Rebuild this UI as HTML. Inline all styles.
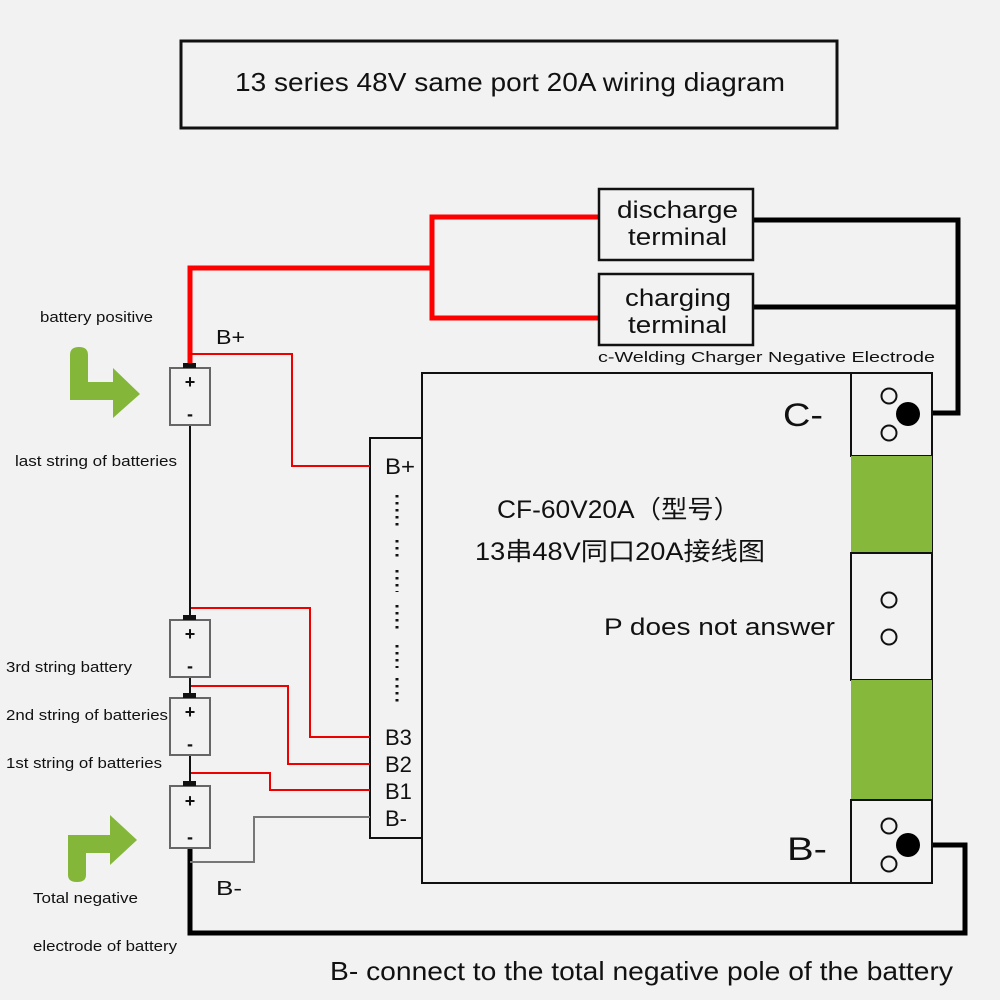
<!DOCTYPE html>
<html><head><meta charset="utf-8"><style>
html,body{margin:0;padding:0;background:#f2f2f2}
svg{display:block}
text{font-family:"Liberation Sans","Noto Sans CJK SC",sans-serif;fill:#111}
</style></head><body>
<svg width="1000" height="1000" viewBox="0 0 1000 1000" xmlns="http://www.w3.org/2000/svg">
<rect width="1000" height="1000" fill="#f2f2f2"/>
<rect x="181" y="41" width="656" height="87" fill="none" stroke="#111" stroke-width="3"/>
<text x="235" y="91" font-size="26" textLength="550" lengthAdjust="spacingAndGlyphs">13 series 48V same port 20A wiring diagram</text>

<polyline points="190,365 190,268 432,268 432,217 600,217" fill="none" stroke="#f00" stroke-width="5"/>
<polyline points="432,268 432,318 600,318" fill="none" stroke="#f00" stroke-width="5"/>
<polyline points="753,220 958,220 958,413 908,413" fill="none" stroke="#000" stroke-width="5"/>
<polyline points="753,307 958,307" fill="none" stroke="#000" stroke-width="5"/>
<polyline points="190,845 190,933 965,933 965,845 908,845" fill="none" stroke="#000" stroke-width="5"/>

<rect x="599" y="189" width="154" height="71" fill="#f2f2f2" stroke="#111" stroke-width="2.5"/>
<text x="617" y="218" font-size="24" textLength="121" lengthAdjust="spacingAndGlyphs">discharge</text>
<text x="628" y="245" font-size="24" textLength="99" lengthAdjust="spacingAndGlyphs">terminal</text>
<rect x="599" y="274" width="154" height="71" fill="#f2f2f2" stroke="#111" stroke-width="2.5"/>
<text x="625" y="306" font-size="24" textLength="106" lengthAdjust="spacingAndGlyphs">charging</text>
<text x="628" y="333" font-size="24" textLength="99" lengthAdjust="spacingAndGlyphs">terminal</text>
<text x="598" y="362" font-size="15" textLength="337" lengthAdjust="spacingAndGlyphs">c-Welding Charger Negative Electrode</text>

<rect x="422" y="373" width="510" height="510" fill="#f2f2f2" stroke="#111" stroke-width="2"/>
<rect x="851" y="373" width="81" height="83" fill="#f2f2f2" stroke="#111" stroke-width="2"/>
<rect x="851" y="456" width="81" height="97" fill="#86b83c"/>
<rect x="851" y="553" width="81" height="127" fill="#f2f2f2" stroke="#111" stroke-width="2"/>
<rect x="851" y="680" width="81" height="120" fill="#86b83c"/>
<rect x="851" y="800" width="81" height="83" fill="#f2f2f2" stroke="#111" stroke-width="2"/>
<g fill="none" stroke="#111" stroke-width="2">
<circle cx="889" cy="396" r="7.5"/><circle cx="889" cy="433" r="7.5"/>
<circle cx="889" cy="600" r="7.5"/><circle cx="889" cy="637" r="7.5"/>
<circle cx="889" cy="826" r="7.5"/><circle cx="889" cy="864" r="7.5"/>
</g>
<circle cx="908" cy="414" r="12" fill="#000"/>
<circle cx="908" cy="845" r="12" fill="#000"/>
<text x="783" y="426" font-size="32" textLength="40" lengthAdjust="spacingAndGlyphs">C-</text>
<text x="787" y="860" font-size="32" textLength="40" lengthAdjust="spacingAndGlyphs">B-</text>
<text x="497" y="518" font-size="25" textLength="243" lengthAdjust="spacingAndGlyphs">CF-60V20A（型号）</text>
<text x="475" y="560" font-size="25" textLength="290" lengthAdjust="spacingAndGlyphs">13串48V同口20A接线图</text>
<text x="604" y="635" font-size="24" textLength="231" lengthAdjust="spacingAndGlyphs">P does not answer</text>

<rect x="370" y="438" width="52" height="400" fill="#f2f2f2" stroke="#111" stroke-width="2"/>
<g font-size="22">
<text x="385" y="474" textLength="30" lengthAdjust="spacingAndGlyphs">B+</text>
<text x="385" y="745">B3</text>
<text x="385" y="772">B2</text>
<text x="385" y="799">B1</text>
<text x="385" y="826">B-</text>
</g>
<g stroke="#111" stroke-width="3" stroke-dasharray="2.5,4.5">
<line x1="397" y1="495" x2="397" y2="530"/>
<line x1="397" y1="540" x2="397" y2="560"/>
<line x1="397" y1="570" x2="397" y2="592"/>
<line x1="397" y1="605" x2="397" y2="632"/>
<line x1="397" y1="645" x2="397" y2="668"/>
<line x1="397" y1="678" x2="397" y2="705"/>
</g>

<g fill="none" stroke-width="2">
<polyline points="190,354 292,354 292,466 370,466" stroke="#e00"/>
<polyline points="190,608 310,608 310,737 370,737" stroke="#e00"/>
<polyline points="190,686 288,686 288,764 370,764" stroke="#e00"/>
<polyline points="190,773 270,773 270,790 370,790" stroke="#e00"/>
<polyline points="190,862 254,862 254,817 370,817" stroke="#777"/>
<line x1="190" y1="425" x2="190" y2="620" stroke="#111"/>
<line x1="190" y1="677" x2="190" y2="698" stroke="#111"/>
<line x1="190" y1="755" x2="190" y2="786" stroke="#111"/>
</g>

<g fill="#f2f2f2" stroke="#666" stroke-width="2">
<rect x="170" y="368" width="40" height="57"/>
<rect x="170" y="620" width="40" height="57"/>
<rect x="170" y="698" width="40" height="57"/>
<rect x="170" y="786" width="40" height="62"/>
</g>
<g fill="#111">
<rect x="183" y="363" width="13" height="5"/>
<rect x="183" y="615" width="13" height="5"/>
<rect x="183" y="693" width="13" height="5"/>
<rect x="183" y="781" width="13" height="5"/>
</g>
<g font-size="18" font-weight="bold" text-anchor="middle">
<text x="190" y="388">+</text><text x="190" y="420">-</text>
<text x="190" y="640">+</text><text x="190" y="672">-</text>
<text x="190" y="718">+</text><text x="190" y="750">-</text>
<text x="190" y="807">+</text><text x="190" y="843">-</text>
</g>
<text x="216" y="344" font-size="20" textLength="29" lengthAdjust="spacingAndGlyphs">B+</text>
<text x="216" y="895" font-size="20" textLength="26" lengthAdjust="spacingAndGlyphs">B-</text>

<g fill="#84b63a">
<path d="M70,355 Q70,347 79,347 Q88,347 88,355 L88,382 L115,382 L115,400 L70,400 Z"/>
<polygon points="113,368 140,394 113,418"/>
<path d="M68,875 Q68,882 77,882 Q86,882 86,875 L86,853 L112,853 L112,835 L68,835 Z"/>
<polygon points="110,815 137,840 110,865"/>
</g>

<g font-size="15">
<text x="40" y="322" textLength="113" lengthAdjust="spacingAndGlyphs">battery positive</text>
<text x="15" y="466" textLength="162" lengthAdjust="spacingAndGlyphs">last string of batteries</text>
<text x="6" y="672" textLength="126" lengthAdjust="spacingAndGlyphs">3rd string battery</text>
<text x="6" y="720" textLength="162" lengthAdjust="spacingAndGlyphs">2nd string of batteries</text>
<text x="6" y="768" textLength="156" lengthAdjust="spacingAndGlyphs">1st string of batteries</text>
<text x="33" y="903" textLength="105" lengthAdjust="spacingAndGlyphs">Total negative</text>
<text x="33" y="951" textLength="144" lengthAdjust="spacingAndGlyphs">electrode of battery</text>
</g>
<text x="330" y="980" font-size="26" textLength="623" lengthAdjust="spacingAndGlyphs">B- connect to the total negative pole of the battery</text>
</svg>
</body></html>
